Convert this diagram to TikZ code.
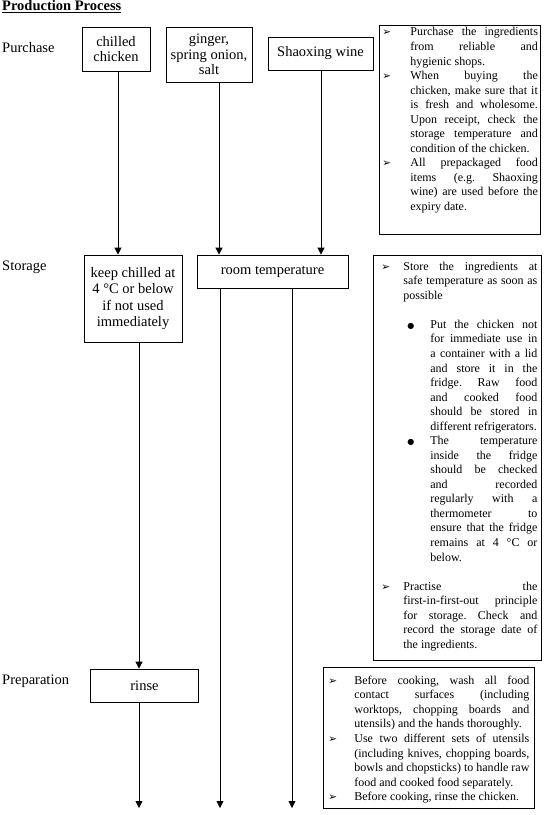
\documentclass[tikz,border=0pt]{standalone}
\usepackage{fontspec}
\setmainfont{Liberation Serif}
\newfontfamily\symfont{DejaVu Sans}
\usetikzlibrary{arrows.meta}

\newcommand\arrowbullet{{\symfont\fontsize{10.5bp}{10.5bp}\selectfont ➢}}
\newcommand\dotbullet{{\symfont\fontsize{8bp}{8bp}\selectfont ●}}
\newcommand\tipsetup{\fontsize{12bp}{14.54bp}\selectfont\frenchspacing
  \tolerance=10000 \hyphenpenalty=10000 \exhyphenpenalty=10000
  \hbadness=10000 \hfuzz=4bp}

% bullet lists of the notes: label, left margin, label width, right margin, top sep
\newenvironment{tiplist}[5]{%
  \begin{list}{#1}{\setlength\leftmargin{#2}\setlength\labelwidth{#3}%
    \setlength\labelsep{0pt}\setlength\rightmargin{#4}%
    \setlength\itemsep{0pt}\setlength\parsep{0pt}%
    \setlength\topsep{#5}\setlength\partopsep{0pt}%
    \def\makelabel##1{##1\hfil}}}%
  {\end{list}}

\tikzset{
  stepbox/.style={draw, line width=0.8bp, align=center, inner sep=0pt,
    font=\fontsize{14.5bp}{15.5bp}\selectfont},
  rowlabel/.style={anchor=base west, inner sep=0pt,
    font=\fontsize{14.5bp}{15.5bp}\selectfont},
  tipbox/.style={draw, line width=0.8bp, anchor=north west, inner ysep=0pt},
  flow/.style={line width=0.8bp, -{Triangle[length=7bp,width=7bp]}}
}

\begin{document}
\begin{tikzpicture}[x=1bp, y=-1bp]
  \useasboundingbox (0,0) rectangle (545,815);

  \node[rowlabel, font=\fontsize{14.5bp}{15.5bp}\selectfont\bfseries] (title) at (2,11) {\underline{Production Process}};

  % row labels
  \node[rowlabel] (purchase) at (2,53) {Purchase};
  \node[rowlabel] (storage) at (2,270.5) {Storage};
  \node[rowlabel] (preparation) at (2,684) {Preparation};

  % flow boxes
  \node[stepbox, minimum width=68bp, minimum height=44bp] (chicken) at (116,49) {chilled\\chicken};
  \node[stepbox, minimum width=86bp, minimum height=55bp] (ginger) at (209,54.5) {ginger,\\spring onion,\\salt};
  \node[stepbox, minimum width=105bp, minimum height=33bp] (wine) at (320.5,53.5) {Shaoxing wine};
  \node[stepbox, minimum width=98bp, minimum height=87bp, font=\fontsize{14.5bp}{16.5bp}\selectfont] (keep) at (133,298.5) {keep chilled at\\4 °C or below\\if not used\\immediately};
  \node[stepbox, minimum width=151bp, minimum height=33bp] (room) at (272.5,271.5) {room temperature};
  \node[stepbox, minimum width=108bp, minimum height=33bp] (rinse) at (144.5,685.5) {rinse};

  % x of the connectors, and their free end
  \coordinate (c1) at (118,0);
  \coordinate (c2) at (219,0);
  \coordinate (c3) at (321,0);
  \coordinate (c4) at (139,0);
  \coordinate (c5) at (220,0);
  \coordinate (c6) at (292,0);
  \coordinate (bottom) at (0,808);

  \draw[flow] (chicken.south -| c1) -- (keep.north -| c1);
  \draw[flow] (ginger.south -| c2) -- (room.north -| c2);
  \draw[flow] (wine.south -| c3) -- (room.north -| c3);
  \draw[flow] (keep.south -| c4) -- (rinse.north -| c4);
  \draw[flow] (rinse.south -| c4) -- (bottom -| c4);
  \draw[flow] (room.south -| c5) -- (bottom -| c5);
  \draw[flow] (room.south -| c6) -- (bottom -| c6);

  % notes
  \node[tipbox, inner xsep=2.5bp] (tips1) at (379,25) {\parbox[t][209bp][t]{156bp}{\tipsetup\vspace*{2.2bp}%
    \begin{tiplist}{\arrowbullet}{28.5bp}{28bp}{0pt}{0pt}
    \item Purchase the ingredients\linebreak
      from reliable and\linebreak
      hygienic shops.
    \item When buying the\linebreak
      chicken, make sure that it\linebreak
      is fresh and wholesome.\linebreak
      Upon receipt, check the\linebreak
      storage temperature and\linebreak
      condition of the chicken.
    \item All prepackaged food\linebreak
      items (e.g. Shaoxing\linebreak
      wine) are used before the\linebreak
      expiry date.
    \end{tiplist}}};

  \node[tipbox, inner xsep=4bp] (tips2) at (373,255) {\parbox[t][405bp][t]{160bp}{\tipsetup\vspace*{6.5bp}%
    \begin{tiplist}{\arrowbullet}{26bp}{22bp}{0pt}{0pt}
    \item Store the ingredients at\linebreak
      safe temperature as soon as\linebreak
      possible
      \begin{tiplist}{\dotbullet}{27bp}{23bp}{0pt}{14.54bp}
      \item Put the chicken not\linebreak
        for immediate use in\linebreak
        a container with a lid\linebreak
        and store it in the\linebreak
        fridge. Raw food\linebreak
        and cooked food\linebreak
        should be stored in\linebreak
        different refrigerators.
      \item The temperature\linebreak
        inside the fridge\linebreak
        should be checked\linebreak
        and recorded\linebreak
        regularly with a\linebreak
        thermometer to\linebreak
        ensure that the fridge\linebreak
        remains at 4 °C or\linebreak
        below.
      \end{tiplist}
    \item Practise the\linebreak
      first-in-first-out principle\linebreak
      for storage. Check and\linebreak
      record the storage date of\linebreak
      the ingredients.
    \end{tiplist}}};

  \node[tipbox, inner xsep=5bp] (tips3) at (323,667) {\parbox[t][141bp][t]{207bp}{\tipsetup\vspace*{8.5bp}%
    \begin{tiplist}{\arrowbullet}{26bp}{26bp}{6bp}{0pt}
    \item Before cooking, wash all food\linebreak
      contact surfaces (including\linebreak
      worktops, chopping boards and\linebreak
      utensils) and the hands thoroughly.
    \item Use two different sets of utensils\linebreak
      (including knives, chopping boards,\linebreak
      bowls and chopsticks) to handle raw\linebreak
      food and cooked food separately.
    \item Before cooking, rinse the chicken.
    \end{tiplist}}};
\end{tikzpicture}
\end{document}
